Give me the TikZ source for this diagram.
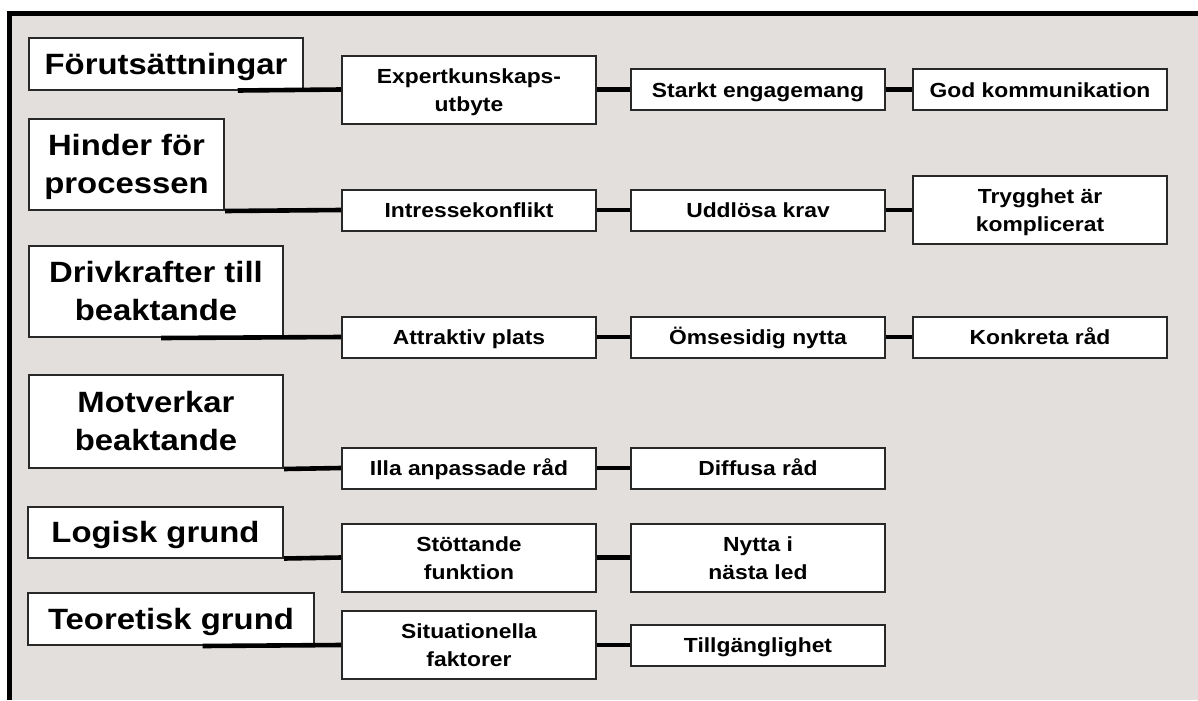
\documentclass[tikz,border=0pt]{standalone}
\usepackage{fontspec}
\setmainfont{Liberation Sans}[FakeStretch=1.12]
\usetikzlibrary{calc}
\newdimen\px \px=0.75pt
\definecolor{panel}{RGB}{227,223,220}
\definecolor{edge}{RGB}{40,40,40}

\begin{document}
\begin{tikzpicture}[x=0.75pt,y=-0.75pt,
    box/.style={draw=edge,line width=2\px,fill=white,inner sep=0pt,align=center,text depth=0pt},
    hdr/.style={box,font=\fontsize{22}{28.5}\selectfont\bfseries,text height=44pt},
    oneline/.style={hdr,text height=15.5pt},
    tall/.style={box,minimum width=254\px,minimum height=68\px,font=\fontsize{15.3}{21}\selectfont\bfseries,
        text height=32.4pt},
    sub/.style={tall,minimum height=41\px,text height=11.4pt},
    link/.style={line width=4.6\px}]
        \useasboundingbox (0,0) rectangle (1198,700);
        %% Frame
        \fill[white] (0,0) rectangle (1198,700);
        \fill[panel] (9.5,13.5) rectangle (1198,700);
        \draw[line width=5\px] (9.5,700) -- (9.5,13.5) -- (1198,13.5);
        %% Headers
        \node[oneline,minimum width=274\px,minimum height=51.5\px] (H1) at (166,63.75) {Förutsättningar};
        \node[hdr,minimum width=195\px,minimum height=91\px] (H2) at (126.5,164.5) {Hinder för\\processen};
        \node[hdr,minimum width=254\px,minimum height=91\px] (H3) at (156,291.5) {Drivkrafter till\\beaktande};
        \node[hdr,minimum width=254\px,minimum height=93\px] (H4) at (156,421.5) {Motverkar\\beaktande};
        \node[oneline,minimum width=255\px,minimum height=50.5\px] (H5) at (155.5,532.25) {Logisk grund};
        \node[oneline,minimum width=286\px,minimum height=52\px] (H6) at (171,619) {Teoretisk grund};
        %% Row 1
        \node[tall] (A1) at (469,89.5) {Expertkunskaps-\\utbyte};
        \node[sub] (B1) at (758,89.5) {Starkt engagemang};
        \node[sub] (C1) at (1040,89.5) {God kommunikation};
        %% Row 2
        \node[sub] (A2) at (469,210) {Intressekonflikt};
        \node[sub] (B2) at (758,210) {Uddlösa krav};
        \node[tall] (C2) at (1040,210) {Trygghet är\\komplicerat};
        %% Row 3
        \node[sub] (A3) at (469,337) {Attraktiv plats};
        \node[sub] (B3) at (758,337) {Ömsesidig nytta};
        \node[sub] (C3) at (1040,337) {Konkreta råd};
        %% Row 4
        \node[sub] (A4) at (469,468) {Illa anpassade råd};
        \node[sub] (B4) at (758,468) {Diffusa råd};
        %% Row 5
        \node[tall] (A5) at (469,557.5) {Stöttande\\funktion};
        \node[tall] (B5) at (758,557.5) {Nytta i\\nästa led};
        %% Row 6
        \node[tall] (A6) at (469,645) {Situationella\\faktorer};
        \node[sub] (B6) at (758,645) {Tillgänglighet};
        %% Links
        \draw[link] ($(H1.south west)!0.76!(H1.south east)$) -- (A1.west);
        \draw[link] (H2.south east) -- (A2.west);
        \draw[link] ($(H3.south west)!0.52!(H3.south east)$) -- (A3.west);
        \draw[link] (H4.south east) -- (A4.west);
        \draw[link] (H5.south east) -- (A5.west);
        \draw[link] ($(H6.south west)!0.61!(H6.south east)$) -- (A6.west);
        \draw[link] (A1.east) -- (B1.west);
        \draw[link] (B1.east) -- (C1.west);
        \draw[link] (A2.east) -- (B2.west);
        \draw[link] (B2.east) -- (C2.west);
        \draw[link] (A3.east) -- (B3.west);
        \draw[link] (B3.east) -- (C3.west);
        \draw[link] (A4.east) -- (B4.west);
        \draw[link] (A5.east) -- (B5.west);
        \draw[link] (A6.east) -- (B6.west);
    \end{tikzpicture}
\end{document}
